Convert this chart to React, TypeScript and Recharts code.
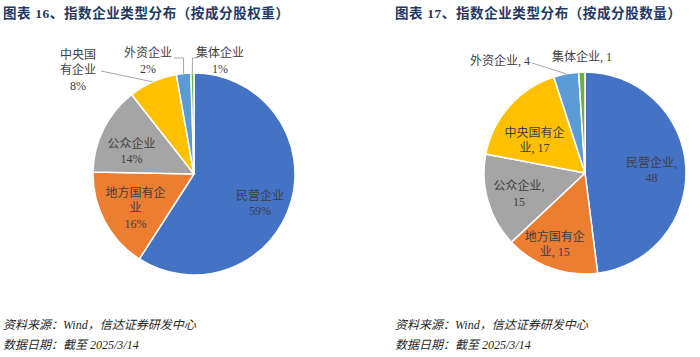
import { PieChart, Pie, Cell } from 'recharts';

const TYPES = ['民营企业', '地方国有企业', '公众企业', '中央国有企业', '外资企业', '集体企业'];
const WEIGHT_PCT = [59.1, 16.2, 14.1, 7.8, 2.3, 0.5];
const COUNTS = [48, 15, 15, 17, 4, 1];
const COLORS = ['#4472C4', '#ED7D31', '#A5A5A5', '#FFC000', '#5B9BD5', '#70AD47'];

const weightData = TYPES.map((name, i) => ({ name, value: WEIGHT_PCT[i] }));
const countData = TYPES.map((name, i) => ({ name, value: COUNTS[i] }));

const RAD = Math.PI / 180;
const FONT = "'Liberation Serif', 'Noto Sans CJK SC', serif";
const TITLE_FONT = "'Liberation Serif', 'Noto Sans CJK SC', sans-serif";

// label placement, relative to pie centre (Excel-style manual placement)
const LEFT_LAYOUT: any = {
  nudge: { 民营企业: [0, 10], 地方国有企业: [2, 2], 公众企业: [-1, 8] },
  outside: {
    中央国有企业: { dx: -116, dy: -104, start: [-93, -103] },
    外资企业: { dx: -46, dy: -113, start: [-20, -116], elbow: true },
    集体企业: { dx: 26, dy: -113, start: [3, -116], elbow: true },
  },
  wrap: { 中央国有企业: 3 },
};

const RIGHT_LAYOUT: any = {
  nudge: { 民营企业: [-2, 2], 地方国有企业: [-7, 7], 公众企业: [0, 2], 中央国有企业: [1, 13] },
  outside: {
    外资企业: { dx: -85, dy: -112, start: [-53, -110] },
    集体企业: { dx: -3, dy: -116 },
  },
  wrap: {},
};

const weightLines = (name: string, value: number, percent: number, layout: any) => {
  const w = layout.wrap[name] ?? 5;
  const out: string[] = [];
  for (let i = 0; i < name.length; i += w) out.push(name.slice(i, i + w));
  out.push(`${Math.max(1, Math.round(percent * 100))}%`);
  return out;
};

const countLines = (name: string, value: number, percent: number, layout: any) => {
  if (name.length > 5) return [name.slice(0, 5), `${name.slice(5)}, ${value}`];
  if (layout.outside[name]) return [`${name}, ${value}`];
  return [`${name},`, `${value}`];
};

function makeLabel(layout: any, linesFor: any) {
  return (props: any) => {
    const { cx, cy, midAngle, outerRadius, name, value, percent } = props;
    const lines: string[] = linesFor(name, value, percent, layout);
    const out = layout.outside[name];
    let x: number;
    let y: number;
    let leader: any = null;
    if (out) {
      x = cx + out.dx;
      y = cy + out.dy;
      const px = cx + outerRadius * Math.cos(-midAngle * RAD);
      const py = cy + outerRadius * Math.sin(-midAngle * RAD);
      if (out.start) {
        const sx = cx + out.start[0];
        const sy = cy + out.start[1];
        const pts = out.elbow ? `${sx},${sy} ${px},${sy} ${px},${py}` : `${sx},${sy} ${px},${py}`;
        leader = <polyline points={pts} fill="none" stroke="#A6A6A6" strokeWidth={1} />;
      }
    } else {
      const n = layout.nudge[name] ?? [0, 0];
      const r = outerRadius * 0.68;
      x = cx + r * Math.cos(-midAngle * RAD) + n[0];
      y = cy + r * Math.sin(-midAngle * RAD) + n[1];
    }
    const lh = 15.5;
    const y0 = y - ((lines.length - 1) * lh) / 2;
    return (
      <g>
        {leader}
        {lines.map((t, i) => (
          <text
            key={i}
            x={x}
            y={y0 + i * lh}
            textAnchor="middle"
            dominantBaseline="central"
            fontSize={12}
            fill="#404040"
            fontFamily={FONT}
          >
            {t}
          </text>
        ))}
      </g>
    );
  };
}

const titleStyle: any = {
  position: 'absolute',
  top: 5,
  fontFamily: TITLE_FONT,
  fontWeight: 'bold',
  fontSize: 13.5,
  letterSpacing: 0.6,
  lineHeight: '18px',
  color: '#1F3864',
  whiteSpace: 'nowrap',
};

const noteStyle: any = {
  position: 'absolute',
  fontFamily: FONT,
  fontStyle: 'italic',
  fontSize: 12,
  lineHeight: '20px',
  color: '#262626',
  whiteSpace: 'nowrap',
};

export default function App() {
  return (
    <div style={{ position: 'absolute', left: 0, top: 0, width: 700, height: 357, background: '#fff', overflow: 'hidden' }}>
      <div style={{ ...titleStyle, left: 3 }}>图表 16、指数企业类型分布（按成分股权重）</div>
      <div style={{ ...titleStyle, left: 395 }}>图表 17、指数企业类型分布（按成分股数量）</div>
      <div style={{ position: 'absolute', left: 0, top: 0 }}>
        <PieChart width={700} height={300}>
          <Pie
            data={weightData}
            dataKey="value"
            nameKey="name"
            cx={189}
            cy={169}
            outerRadius={101}
            startAngle={90}
            endAngle={-270}
            stroke="#fff"
            strokeWidth={1.5}
            labelLine={false}
            label={makeLabel(LEFT_LAYOUT, weightLines)}
            isAnimationActive={false}
          >
            {weightData.map((_, i) => (
              <Cell key={i} fill={COLORS[i]} />
            ))}
          </Pie>
          <Pie
            data={countData}
            dataKey="value"
            nameKey="name"
            cx={580}
            cy={168}
            outerRadius={101}
            startAngle={90}
            endAngle={-270}
            stroke="#fff"
            strokeWidth={1.5}
            labelLine={false}
            label={makeLabel(RIGHT_LAYOUT, countLines)}
            isAnimationActive={false}
          >
            {countData.map((_, i) => (
              <Cell key={i} fill={COLORS[i]} />
            ))}
          </Pie>
        </PieChart>
      </div>
      <div style={{ ...noteStyle, left: 3, top: 315 }}>资料来源：Wind，信达证券研发中心</div>
      <div style={{ ...noteStyle, left: 3, top: 335 }}>数据日期：截至 2025/3/14</div>
      <div style={{ ...noteStyle, left: 395, top: 315 }}>资料来源：Wind，信达证券研发中心</div>
      <div style={{ ...noteStyle, left: 395, top: 335 }}>数据日期：截至 2025/3/14</div>
    </div>
  );
}
